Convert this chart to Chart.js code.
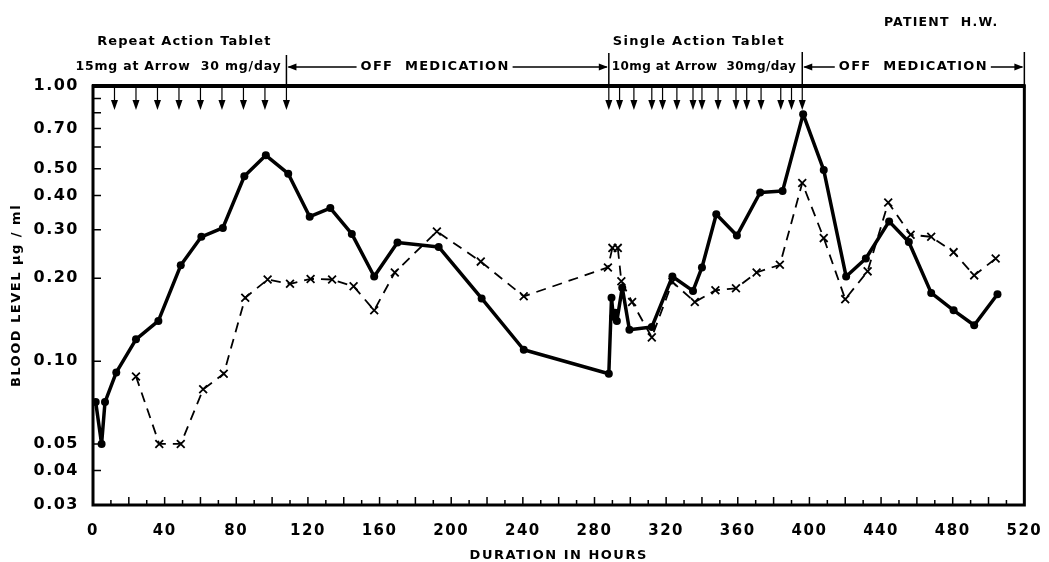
<!DOCTYPE html>
<html>
<head>
<meta charset="utf-8">
<title>Blood level – Patient H.W.</title>
<script src="https://cdn.jsdelivr.net/npm/chart.js@4/dist/chart.umd.min.js"></script>
<style>
  html, body { margin: 0; padding: 0; background: #fff; }
  #wrap { width: 1049px; height: 562px; position: relative; }
</style>
</head>
<body>
<div id="wrap"><canvas id="c" width="1049" height="562"></canvas></div>
<script>
// Blood level (µg/ml) over time — solid: dots, dashed: crosses
const hoursSolid = [1.5, 4.8, 6.7, 13, 24, 36.5, 49, 60.5, 72.5, 84.5, 96.5, 109, 121, 132.5, 144.5, 157, 170, 193, 217, 240.5,
  288, 289.5, 290.5, 291.5, 292.5, 295.5, 299.5, 312, 323.5, 335, 340, 348, 359.5, 372.5, 385, 396.5,
  408, 420.5, 431.5, 444.5, 455.5, 468, 480.5, 492, 505];
const levelSolid = [0.071, 0.05, 0.071, 0.091, 0.12, 0.14, 0.223, 0.283, 0.305, 0.47, 0.56, 0.48, 0.335, 0.36, 0.29, 0.203, 0.27, 0.26, 0.169, 0.11,
  0.09, 0.17, 0.145, 0.15, 0.14, 0.185, 0.13, 0.133, 0.203, 0.18, 0.219, 0.342, 0.286, 0.41, 0.415, 0.79,
  0.495, 0.203, 0.236, 0.322, 0.271, 0.177, 0.153, 0.135, 0.175];

const hoursDashed = [24, 37, 49, 61.5, 73, 85, 97.5, 110, 121.5, 133.5, 145.5, 157, 168.5, 192, 216.5, 240.5,
  287.5, 290, 293, 295, 301, 312, 323.5, 336, 347.5, 359, 370.5, 383.5, 396,
  408, 420, 432.5, 444, 456.5, 468, 480.5, 492, 504];
const levelDashed = [0.088, 0.05, 0.05, 0.079, 0.09, 0.17, 0.198, 0.191, 0.199, 0.198, 0.187, 0.153, 0.21, 0.296, 0.23, 0.172,
  0.219, 0.258, 0.258, 0.195, 0.164, 0.122, 0.194, 0.164, 0.181, 0.184, 0.21, 0.224, 0.444,
  0.28, 0.168, 0.212, 0.377, 0.288, 0.283, 0.249, 0.205, 0.236];

// dosing times (hours)
const repeatDoses = [12, 24, 36, 48, 60, 72, 84, 96, 108];
const singleDoses = [288, 294, 302, 312, 318, 326, 335, 340, 349, 359, 365, 373, 384, 390, 396];

// treatment phases (hours)
const repeatPhase = [0, 108];
const offPhase1 = [108, 288];
const singlePhase = [288, 396];
const offPhase2 = [396, 520];

// axis ticks
const yTickValues = [0.03, 0.04, 0.05, 0.1, 0.2, 0.3, 0.4, 0.5, 0.6, 0.7, 0.8, 0.9, 1.0];
const yTickLabelled = [0.03, 0.04, 0.05, 0.1, 0.2, 0.3, 0.4, 0.5, 0.7, 1.0];
const xMin = 0, xMax = 520, xStep = 10, xLabelEvery = 40, xLongEvery = 20;

const FONT = 'DejaVu Sans';
Chart.defaults.font.family = FONT;
Chart.defaults.color = '#000';

const toPoints = (xs, ys) => xs.map((x, i) => ({ x, y: ys[i] }));

function drawText(ctx, text, x, y, size, spacing, align) {
  ctx.save();
  ctx.font = 'bold ' + size + 'px "' + FONT + '"';
  ctx.letterSpacing = spacing + 'px';
  ctx.textAlign = align || 'left';
  ctx.textBaseline = 'middle';
  ctx.fillStyle = '#000';
  ctx.fillText(text, x, y);
  ctx.restore();
}
function textWidth(ctx, text, size, spacing) {
  ctx.save();
  ctx.font = 'bold ' + size + 'px "' + FONT + '"';
  ctx.letterSpacing = spacing + 'px';
  const w = ctx.measureText(text).width;
  ctx.restore();
  return w;
}
function arrowHead(ctx, x, y, dir) {
  // dir: -1 pointing left, +1 pointing right
  ctx.beginPath();
  ctx.moveTo(x, y);
  ctx.lineTo(x - dir * 9, y - 3.5);
  ctx.lineTo(x - dir * 9, y + 3.5);
  ctx.closePath();
  ctx.fill();
}
function phaseArrow(ctx, x0, x1, y, label, cx) {
  const size = 13, sp = 1.3;
  const w = textWidth(ctx, label, size, sp);
  const t0 = cx - w / 2 - 4, t1 = cx + w / 2 + 3;
  ctx.beginPath();
  ctx.moveTo(x0 + 2, y); ctx.lineTo(t0, y);
  ctx.moveTo(t1, y); ctx.lineTo(x1 - 2, y);
  ctx.stroke();
  arrowHead(ctx, x0 + 1, y, -1);
  arrowHead(ctx, x1 - 1, y, 1);
  drawText(ctx, label, cx, y, size, sp, 'center');
}

const annotations = {
  id: 'annotations',
  beforeDraw(chart) {
    chart.ctx.letterSpacing = '1.5px';
  },
  afterDraw(chart) {
    const ctx = chart.ctx;
    const xs = chart.scales.x, ys = chart.scales.y;
    const { left, right, top, bottom } = chart.chartArea;
    const X = h => xs.getPixelForValue(h);
    ctx.save();
    ctx.letterSpacing = '0px';
    ctx.strokeStyle = '#000';
    ctx.fillStyle = '#000';
    ctx.lineCap = 'butt';

    // inward tick marks
    ctx.lineWidth = 1.5;
    ctx.beginPath();
    for (let v = xMin + xStep; v < xMax; v += xStep) {
      const px = X(v);
      const len = (v % xLongEvery === 0) ? 8 : 5;
      ctx.moveTo(px, bottom); ctx.lineTo(px, bottom - len);
    }
    yTickValues.forEach(v => {
      if (v <= ys.min || v >= ys.max) return;
      const py = ys.getPixelForValue(v);
      ctx.moveTo(left, py); ctx.lineTo(left + 8, py);
    });
    ctx.stroke();

    // frame
    ctx.lineWidth = 3;
    ctx.strokeRect(left, top, right - left, bottom - top);
    ctx.lineWidth = 4;
    ctx.beginPath(); ctx.moveTo(left - 1, top); ctx.lineTo(right + 1, top); ctx.stroke();

    // dose arrows
    ctx.lineWidth = 1.2;
    [...repeatDoses, ...singleDoses].forEach(h => {
      const px = X(h);
      ctx.beginPath(); ctx.moveTo(px, top); ctx.lineTo(px, top + 16); ctx.stroke();
      ctx.beginPath();
      ctx.moveTo(px - 3.5, top + 14); ctx.lineTo(px + 3.5, top + 14); ctx.lineTo(px, top + 24);
      ctx.closePath(); ctx.fill();
    });

    // phase boundaries
    ctx.lineWidth = 1.5;
    [[repeatPhase[1], 55], [singlePhase[0], 53], [singlePhase[1], 52], [offPhase2[1], 52]].forEach(([h, y0]) => {
      const px = X(h);
      ctx.beginPath(); ctx.moveTo(px, y0); ctx.lineTo(px, top); ctx.stroke();
    });

    const yRow1 = 42, yRow2 = 67;
    ctx.lineWidth = 1.3;
    phaseArrow(ctx, X(offPhase1[0]), X(offPhase1[1]), yRow2, 'OFF  MEDICATION', X(191));
    phaseArrow(ctx, X(offPhase2[0]), X(offPhase2[1]), yRow2, 'OFF  MEDICATION', (X(offPhase2[0]) + X(offPhase2[1])) / 2);

    drawText(ctx, 'Repeat Action Tablet', X(51), yRow1, 13, 1.1, 'center');
    drawText(ctx, '15mg at Arrow  30 mg/day', X(repeatPhase[1]) - 5, yRow2, 12.5, 0.8, 'right');
    drawText(ctx, 'Single Action Tablet', X(singlePhase[0]) + 4, yRow1, 13, 1.3, 'left');
    drawText(ctx, '10mg at Arrow  30mg/day', X(singlePhase[0]) + 3, yRow2, 12, 0.4, 'left');
    drawText(ctx, 'PATIENT  H.W.', X(offPhase2[1]) - 26, 23, 12.5, 1.2, 'right');
    ctx.restore();
  }
};

new Chart(document.getElementById('c'), {
  type: 'line',
  data: {
    datasets: [
      {
        label: 'solid',
        data: toPoints(hoursSolid, levelSolid),
        borderColor: '#000',
        backgroundColor: '#000',
        borderWidth: 3.5,
        borderJoinStyle: 'round',
        pointRadius: 4,
        pointStyle: 'circle',
        pointBackgroundColor: '#000',
        pointBorderWidth: 0,
        tension: 0
      },
      {
        label: 'dashed',
        data: toPoints(hoursDashed, levelDashed),
        borderColor: '#000',
        borderWidth: 1.8,
        borderJoinStyle: 'round',
        borderDash: [10, 7],
        pointStyle: 'crossRot',
        pointRadius: 5.5,
        pointBorderWidth: 1.8,
        pointBorderColor: '#000',
        tension: 0
      }
    ]
  },
  options: {
    responsive: false,
    animation: false,
    devicePixelRatio: 1,
    layout: { padding: { left: 0, right: 18, top: 86, bottom: 0 } },
    plugins: { legend: { display: false }, tooltip: { enabled: false } },
    scales: {
      x: {
        type: 'linear',
        min: xMin, max: xMax,
        grid: { display: false },
        border: { display: false },
        ticks: {
          stepSize: xStep,
          autoSkip: false,
          maxRotation: 0,
          padding: 9,
          font: { size: 15, weight: 'bold' },
          callback: v => (v % xLabelEvery === 0 ? String(v) : '')
        },
        title: {
          display: true,
          text: 'DURATION IN HOURS',
          font: { size: 13, weight: 'bold', lineHeight: 1.0 },
          padding: { top: 0, bottom: 0 }
        },
        afterFit: s => { s.height = 57; }
      },
      y: {
        type: 'logarithmic',
        min: 0.03, max: 1.0,
        grid: { display: false },
        border: { display: false },
        afterBuildTicks: s => { s.ticks = yTickValues.map(v => ({ value: v })); },
        ticks: {
          autoSkip: false,
          padding: 6,
          font: { size: 16, weight: 'bold' },
          callback: v => (yTickLabelled.some(t => Math.abs(t - v) < 1e-9) ? Number(v).toFixed(2) : '')
        },
        title: {
          display: true,
          text: 'BLOOD LEVEL μg / ml',
          font: { size: 13, weight: 'bold', lineHeight: 1.0 },
          padding: { top: 10, bottom: 0 }
        },
        afterFit: s => { s.width = 93; }
      }
    }
  },
  plugins: [annotations]
});
</script>
</body>
</html>
